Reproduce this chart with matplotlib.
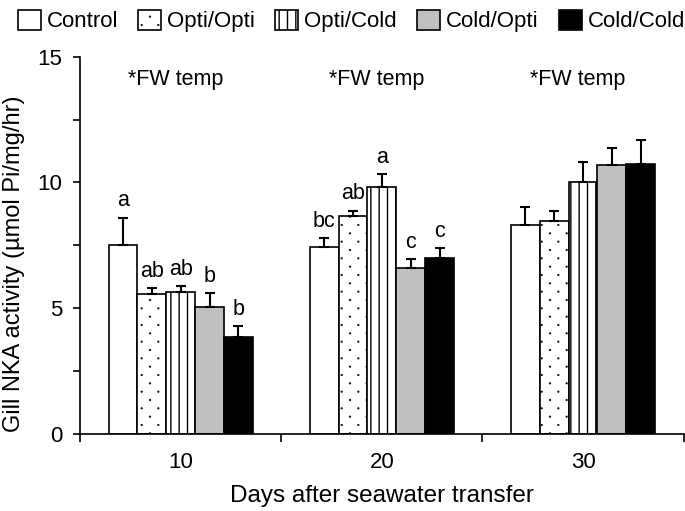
import numpy as np
import matplotlib.pyplot as plt
import matplotlib.hatch as mhatch
from matplotlib.path import Path
from matplotlib.patches import Patch
from matplotlib.ticker import MultipleLocator, FixedLocator

plt.rcParams['font.family'] = ['Liberation Sans', 'DejaVu Sans']
plt.rcParams['hatch.linewidth'] = 1.0


# sparse staggered dots for the '.' hatch (default one is too dense)
class SparseDots(mhatch.HatchPatternBase):
    def __init__(self, hatch, density):
        self.ncol, self.nrow = 6, 12
        self.circle = Path.unit_circle()
        n = 0
        if '.' in hatch:
            n = ((self.nrow // 2 + 1) * (self.ncol + 1) + (self.nrow // 2) * self.ncol)
        self.num_vertices = n * len(self.circle.vertices)

    def set_vertices_and_codes(self, vertices, codes):
        r = 0.004
        vs, cs = [], []
        for row in range(self.nrow + 1):
            if row % 2 == 0:
                cols = np.arange(self.ncol + 1) / self.ncol
            else:
                cols = (np.arange(self.ncol) + 0.5) / self.ncol
            for c in cols:
                vs.append(self.circle.vertices * r + [c, row / self.nrow])
                cs.append(self.circle.codes)
        np.concatenate(vs, out=vertices)
        np.concatenate(cs, out=codes)


mhatch._hatch_types = [SparseDots if t is mhatch.SmallFilledCircles else t
                       for t in mhatch._hatch_types]

days = ['10', '20', '30']
groups = ['Control', 'Opti/Opti', 'Opti/Cold', 'Cold/Opti', 'Cold/Cold']

# mean NKA activity per treatment, one value per day
means = {
    'Control':   [7.5, 7.45, 8.3],
    'Opti/Opti': [5.55, 8.65, 8.45],
    'Opti/Cold': [5.65, 9.8, 10.0],
    'Cold/Opti': [5.05, 6.6, 10.7],
    'Cold/Cold': [3.85, 7.0, 10.75],
}
# upper SEM
errs = {
    'Control':   [1.1, 0.32, 0.72],
    'Opti/Opti': [0.25, 0.23, 0.4],
    'Opti/Cold': [0.22, 0.52, 0.83],
    'Cold/Opti': [0.55, 0.35, 0.68],
    'Cold/Cold': [0.42, 0.4, 0.95],
}
letters = {
    'Control':   ['a', 'bc', ''],
    'Opti/Opti': ['ab', 'ab', ''],
    'Opti/Cold': ['ab', 'a', ''],
    'Cold/Opti': ['b', 'c', ''],
    'Cold/Cold': ['b', 'c', ''],
}
colors = ['white', 'white', 'white', '#c0c0c0', 'black']
hatches = [None, '.', '||', None, None]

fig = plt.figure(figsize=(6.85, 5.11), dpi=100)
ax = fig.add_axes([0.117, 0.151, 0.881, 0.738])

x = np.arange(len(days))
w = 0.1436
for i, g in enumerate(groups):
    pos = x + (i - 2) * w
    ax.bar(pos, means[g], w, color=colors[i], edgecolor='black', hatch=hatches[i],
           linewidth=1.2, zorder=2)
    ax.errorbar(pos, means[g], yerr=[np.zeros(3), errs[g]], fmt='none', ecolor='black',
                elinewidth=1.5, capsize=3.3, capthick=1.5, zorder=3)
    for p, m, e, t in zip(pos, means[g], errs[g], letters[g]):
        if t:
            ax.text(p, m + e + 0.25, t, ha='center', va='bottom', fontsize=15.5)

for xi in x:
    ax.text(xi - 0.025, 14.1, '*FW temp', ha='center', va='center', fontsize=15.5)

ax.set_xlim(-0.5, 2.5)
ax.set_ylim(0, 15)
ax.yaxis.set_major_locator(MultipleLocator(5))
ax.yaxis.set_minor_locator(MultipleLocator(2.5))
ax.tick_params(axis='y', which='both', direction='out', length=5, width=1.2, labelsize=16, pad=8)
ax.xaxis.set_major_locator(FixedLocator([-0.5, 0.5, 1.5, 2.5]))
ax.xaxis.set_major_formatter(plt.NullFormatter())
ax.set_xticks(x, days, minor=True)
ax.tick_params(axis='x', which='major', direction='out', length=6, width=1.2)
ax.tick_params(axis='x', which='minor', length=0, labelsize=16, pad=13)
for s in ['top', 'right']:
    ax.spines[s].set_visible(False)
for s in ['left', 'bottom']:
    ax.spines[s].set_linewidth(1.2)

ax.set_xlabel('Days after seawater transfer', fontsize=17.5, labelpad=9)
ax.set_ylabel('Gill NKA activity (µmol Pi/mg/hr)', fontsize=17, va='center')
ax.yaxis.set_label_coords(-0.11, 0.45)

handles = [Patch(facecolor=colors[i], edgecolor='black', hatch=hatches[i], linewidth=1.2, label=g)
           for i, g in enumerate(groups)]
fig.legend(handles=handles, loc='center', bbox_to_anchor=(0.513, 0.959), ncol=5,
           frameon=False, fontsize=16, handlelength=1.04, handleheight=1.04,
           handletextpad=0.27, columnspacing=0.9, borderaxespad=0, borderpad=0)

fig.savefig('out.png', dpi=100)
